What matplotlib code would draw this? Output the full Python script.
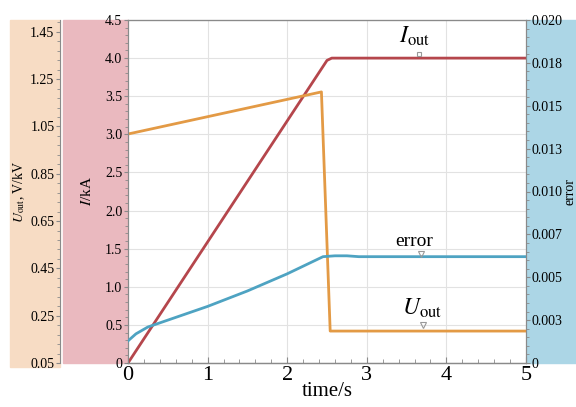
import matplotlib.pyplot as plt
from matplotlib.patches import Rectangle
from matplotlib.ticker import MultipleLocator, FixedLocator
import numpy as np

plt.rcParams['font.family'] = ['Liberation Serif', 'DejaVu Serif']
plt.rcParams['mathtext.fontset'] = 'stix'

# data
t_i = [0.0, 2.5, 2.56, 5.0]
i_out = [0.0, 3.97, 4.0, 4.0]

t_u = [0.0, 2.43, 2.54, 5.0]
u_out = [1.018, 1.196, 0.185, 0.185]

t_err = [0.0, 0.1, 0.25, 0.5, 1.0, 1.5, 2.0, 2.45, 2.6, 2.75, 2.9, 5.0]
err = [0.00129, 0.0017, 0.0021, 0.0025, 0.0033, 0.0042, 0.0052, 0.0062, 0.00625, 0.00625, 0.0062, 0.0062]

err_ticks = [0, 0.0025, 0.005, 0.0075, 0.01, 0.0125, 0.015, 0.0175, 0.02]
err_labels = ["0", "0.003", "0.005", "0.007", "0.010", "0.013", "0.015", "0.018", "0.020"]

c_i = "#b5464c"
c_u = "#e39a45"
c_e = "#4ea3c2"
spine_c = "#8a8a8a"

W, H = 576, 407
fig = plt.figure(figsize=(W / 100, H / 100), dpi=100)

def fx(px):
    return px / W

def fy(py):
    return 1 - py / H

# background panels
for x0, y0, x1, y1, col in [(10, 20, 60, 367, "#f7dcc4"),
                            (63, 20, 128, 363, "#eab9bf"),
                            (526, 20, 576, 363, "#acd6e6")]:
    fig.patches.append(Rectangle((fx(x0), fy(y1)), fx(x1 - x0), fy(y0) - fy(y1),
                                 transform=fig.transFigure, color=col, zorder=-10))

ax = fig.add_axes([fx(128), fy(363), fx(398), fy(20) - fy(363)])
ax.set_facecolor("white")
ax.set_xlim(0, 5)
ax.set_ylim(0, 4.5)
ax.xaxis.set_major_locator(MultipleLocator(1))
ax.xaxis.set_minor_locator(MultipleLocator(0.2))
ax.set_yticks(np.arange(0, 4.51, 0.5))
ax.set_yticklabels(["0"] + [f"{v:.1f}" for v in np.arange(0.5, 4.51, 0.5)])
ax.yaxis.set_minor_locator(MultipleLocator(0.1))
ax.grid(True, color="#e2e2e2", linewidth=0.8)
ax.tick_params(axis="x", which="both", direction="in", labelsize=16, pad=2, colors=spine_c, labelcolor="black")
ax.tick_params(axis="x", which="major", length=4)
ax.tick_params(axis="x", which="minor", length=3)
ax.tick_params(axis="y", which="both", direction="out", labelsize=10, pad=1, colors=spine_c, labelcolor="black")
ax.tick_params(axis="y", which="major", length=3)
ax.tick_params(axis="y", which="minor", length=2)
for s in ax.spines.values():
    s.set_color(spine_c)
ax.set_xlabel("time/s", fontsize=15, labelpad=-2)
ax.set_ylabel("$I$/kA", fontsize=11, labelpad=8)

ax.plot(t_i, i_out, color=c_i, linewidth=2, zorder=3)

# U_out axis on the far left (spine offset given in points: 68 px at 100 dpi)
ax_u = ax.twinx()
ax_u.set_ylim(0.05, 1.5)
ax_u.yaxis.set_ticks_position("left")
ax_u.yaxis.set_label_position("left")
ax_u.spines["left"].set_position(("outward", 68 * 0.72))
ax_u.spines["left"].set_visible(True)
ax_u.spines["right"].set_visible(False)
ax_u.spines["top"].set_color(spine_c)
ax_u.spines["left"].set_color(spine_c)
ax_u.yaxis.set_major_locator(FixedLocator(np.arange(0.05, 1.46, 0.2)))
ax_u.yaxis.set_minor_locator(FixedLocator(np.arange(0.05, 1.5, 0.04)))
ax_u.set_yticklabels([f"{v:.2f}" for v in np.arange(0.05, 1.46, 0.2)])
ax_u.tick_params(axis="y", which="both", direction="out", labelsize=10, pad=1, colors=spine_c, labelcolor="black")
ax_u.tick_params(axis="y", which="major", length=3)
ax_u.tick_params(axis="y", which="minor", length=2)
ax_u.set_ylabel("$U_{\\mathrm{out}}$, V/kV", fontsize=10, labelpad=2)
ax_u.plot(t_u, u_out, color=c_u, linewidth=2, zorder=3)

# error axis on the right
ax_e = ax.twinx()
ax_e.set_ylim(0, 0.02)
ax_e.set_yticks(err_ticks)
ax_e.set_yticklabels(err_labels)
ax_e.yaxis.set_minor_locator(MultipleLocator(0.0005))
for s in ax_e.spines.values():
    s.set_color(spine_c)
ax_e.tick_params(axis="y", which="both", direction="out", labelsize=10, pad=1, colors=spine_c, labelcolor="black")
ax_e.tick_params(axis="y", which="major", length=3)
ax_e.tick_params(axis="y", which="minor", length=2)
ax_e.set_ylabel("error", fontsize=10, labelpad=1)
ax_e.plot(t_err, err, color=c_e, linewidth=2, zorder=3)

# in-plot labels with small markers
ax.plot([3.65], [4.06], marker="s", ms=3, mfc="none", mec="#999999", mew=0.8, zorder=4)
ax.text(3.6, 4.13, "$I_{\\mathrm{out}}$", fontsize=17, ha="center", va="bottom")
ax_e.plot([3.68], [0.00635], marker="v", ms=4, mfc="none", mec="#999999", mew=0.8, zorder=4)
ax_e.text(3.6, 0.0066, "error", fontsize=14, ha="center", va="bottom")
ax_u.plot([3.71], [0.21], marker="v", ms=4, mfc="none", mec="#999999", mew=0.8, zorder=4)
ax_u.text(3.7, 0.23, "$U_{\\mathrm{out}}$", fontsize=17, ha="center", va="bottom")

fig.savefig("out.png", dpi=100)
